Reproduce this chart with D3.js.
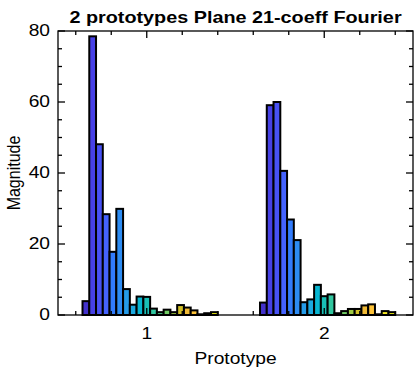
<!DOCTYPE html>
<html>
<head>
<meta charset="utf-8">
<script src="https://cdn.jsdelivr.net/npm/d3@7"></script>
<style>
  html, body { margin: 0; padding: 0; background: #fff; }
  svg { display: block; }
  text { font-family: "Liberation Sans", Arial, Helvetica, sans-serif; fill: #000; }
</style>
</head>
<body>
<svg id="chart" width="415" height="369"></svg>
<script>
// Fourier coefficient magnitudes for the two plane prototypes
const prototypes = [1, 2];
const coeffs = [1, 2, 3, 4, 5, 6, 7, 8, 9, 10, 11, 12, 13, 14, 15, 16, 17, 18, 19, 20, 21];
const proto1 = [0, 3.9, 78.5, 48.1, 28.4, 17.8, 29.9, 7.3, 2.9, 5.2, 5.1, 1.8, 0.8, 1.5, 0.8, 2.8, 2.1, 1.3, 0.2, 0.5, 0.8];
const proto2 = [0, 3.5, 59.1, 60.0, 40.6, 26.9, 21.1, 3.6, 4.4, 8.5, 5.3, 5.8, 0.5, 1.1, 1.7, 1.7, 2.7, 3.0, 0.2, 1.1, 0.8];
const magnitudes = [proto1, proto2];
const yTicks = [0, 20, 40, 60, 80];

// parula colormap, 64 entries
const parula = [
  [0.2422,0.1504,0.6603],[0.2504,0.1650,0.7076],[0.2578,0.1818,0.7511],[0.2647,0.1978,0.7952],
  [0.2706,0.2147,0.8364],[0.2751,0.2342,0.8710],[0.2783,0.2559,0.8991],[0.2803,0.2782,0.9221],
  [0.2813,0.3006,0.9414],[0.2810,0.3228,0.9579],[0.2795,0.3447,0.9717],[0.2760,0.3667,0.9829],
  [0.2699,0.3892,0.9906],[0.2602,0.4123,0.9952],[0.2440,0.4358,0.9988],[0.2206,0.4603,0.9973],
  [0.1963,0.4847,0.9892],[0.1834,0.5074,0.9798],[0.1786,0.5289,0.9682],[0.1764,0.5499,0.9520],
  [0.1687,0.5703,0.9359],[0.1540,0.5902,0.9218],[0.1460,0.6091,0.9079],[0.1380,0.6276,0.8973],
  [0.1248,0.6459,0.8883],[0.1113,0.6635,0.8763],[0.0952,0.6798,0.8598],[0.0689,0.6948,0.8394],
  [0.0297,0.7082,0.8163],[0.0036,0.7203,0.7917],[0.0067,0.7312,0.7660],[0.0433,0.7411,0.7394],
  [0.0964,0.7500,0.7120],[0.1408,0.7584,0.6842],[0.1717,0.7670,0.6554],[0.1938,0.7758,0.6251],
  [0.2161,0.7843,0.5923],[0.2470,0.7918,0.5567],[0.2906,0.7973,0.5188],[0.3406,0.8008,0.4789],
  [0.3909,0.8029,0.4354],[0.4456,0.8024,0.3909],[0.5044,0.7993,0.3480],[0.5616,0.7942,0.3045],
  [0.6174,0.7876,0.2612],[0.6720,0.7793,0.2227],[0.7242,0.7698,0.1910],[0.7738,0.7598,0.1646],
  [0.8203,0.7498,0.1535],[0.8634,0.7406,0.1596],[0.9035,0.7330,0.1774],[0.9393,0.7288,0.2100],
  [0.9728,0.7298,0.2394],[0.9956,0.7434,0.2371],[0.9970,0.7659,0.2199],[0.9952,0.7893,0.2028],
  [0.9892,0.8136,0.1885],[0.9793,0.8386,0.1766],[0.9682,0.8639,0.1643],[0.9636,0.8890,0.1537],
  [0.9644,0.9135,0.1423],[0.9661,0.9371,0.1265],[0.9688,0.9609,0.1050],[0.9769,0.9839,0.0805]
];
function seriesColor(i) {
  const n = coeffs.length;
  const idx = Math.min(parula.length - 1, Math.floor(i / (n - 1) * parula.length));
  const c = parula[idx];
  return d3.rgb(c[0] * 255, c[1] * 255, c[2] * 255).formatHex();
}

const svg = d3.select("#chart");
const plot = { left: 58, right: 413, top: 31, bottom: 315 };
const SX = 1.2; // horizontal widening of all lettering

const x = d3.scaleLinear().domain([0.5, 2.5]).range([plot.left, plot.right]);
const y = d3.scaleLinear().domain([0, 80]).range([plot.bottom, plot.top]);
// position of each coefficient inside its group, in x-data units
const inGroup = d3.scaleBand().domain(coeffs).range([-0.4, 0.4]).padding(0);

// bars
const barW = x(inGroup.bandwidth()) - x(0);
const bars = [];
prototypes.forEach((p, gi) => {
  coeffs.forEach((c, ci) => {
    bars.push({ p, c, ci, v: magnitudes[gi][ci] });
  });
});
svg.append("g").selectAll("rect").data(bars).join("rect")
  .attr("x", d => x(d.p + inGroup(d.c)))
  .attr("y", d => y(d.v))
  .attr("width", barW)
  .attr("height", d => y(0) - y(d.v))
  .attr("fill", d => seriesColor(d.ci))
  .attr("stroke", "#000")
  .attr("stroke-width", 2);

// axes box with inward ticks
const ax = svg.append("g").attr("stroke", "#000").attr("stroke-width", 1.3).attr("fill", "none");
ax.append("rect")
  .attr("x", plot.left).attr("y", plot.top)
  .attr("width", plot.right - plot.left).attr("height", plot.bottom - plot.top);

const majorLen = 7, minorLen = 4;
const yMinor = d3.range(0, 81, 5).filter(v => v % 20 !== 0);
const xMinor = d3.range(0.6, 2.45, 0.2).filter(v => Math.abs(v - Math.round(v)) > 1e-6);

function yTickLines(vals, len) {
  vals.forEach(v => {
    ax.append("line").attr("x1", plot.left).attr("x2", plot.left + len).attr("y1", y(v)).attr("y2", y(v));
    ax.append("line").attr("x1", plot.right).attr("x2", plot.right - len).attr("y1", y(v)).attr("y2", y(v));
  });
}
function xTickLines(vals, len) {
  vals.forEach(v => {
    ax.append("line").attr("x1", x(v)).attr("x2", x(v)).attr("y1", plot.bottom).attr("y2", plot.bottom - len);
    ax.append("line").attr("x1", x(v)).attr("x2", x(v)).attr("y1", plot.top).attr("y2", plot.top + len);
  });
}
yTickLines(yTicks, majorLen);
yTickLines(yMinor, minorLen);
xTickLines(prototypes, majorLen);
xTickLines(xMinor, minorLen);

// lettering, widened horizontally
function label(str, px, py, opts) {
  const o = Object.assign({ size: 16, anchor: "middle", weight: "normal", rotate: 0, baseline: "auto" }, opts || {});
  return svg.append("text")
    .attr("transform", `translate(${px},${py}) scale(${SX},1)` + (o.rotate ? ` rotate(${o.rotate})` : ""))
    .attr("text-anchor", o.anchor)
    .attr("dominant-baseline", o.baseline)
    .style("font-size", o.size + "px")
    .style("font-weight", o.weight)
    .text(str);
}

yTicks.forEach(v => label(String(v), plot.left - 8, y(v), { anchor: "end", baseline: "central" }));
prototypes.forEach(p => label(String(p), x(p), 339));
label("Prototype", (plot.left + plot.right) / 2, 363.5);
label("Magnitude", 20, (plot.top + plot.bottom) / 2, { rotate: -90 });
label("2 prototypes Plane 21-coeff Fourier", (plot.left + plot.right) / 2, 22.5, { size: 16.5, weight: "bold" });
</script>
</body>
</html>
